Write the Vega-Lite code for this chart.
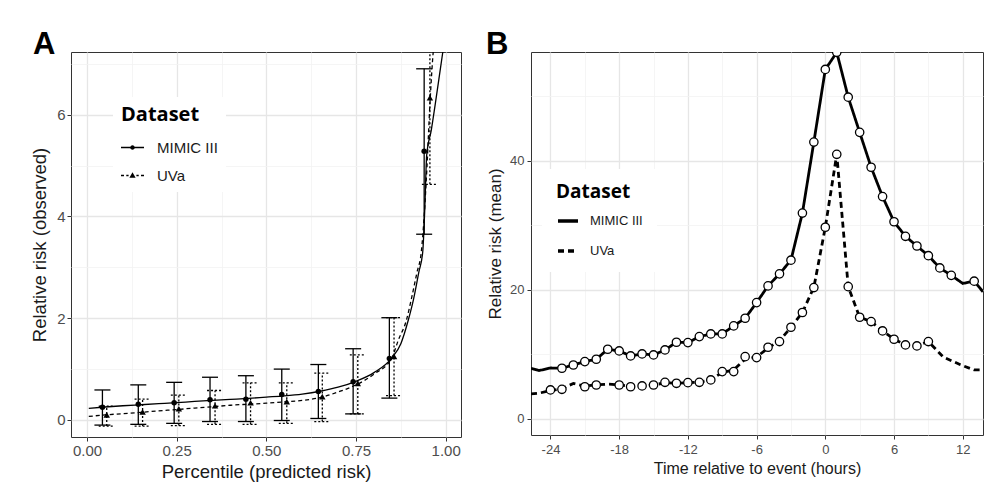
{
  "$schema": "https://vega.github.io/schema/vega-lite/v6.json",
  "autosize": {"type": "none"},
  "padding": {"left": 71, "top": 52, "right": 921, "bottom": 448},
  "background": "white",
  "spacing": 70,
  "bounds": "flush",
  "datasets": {
    "aPts": [
      {"p": 0.043, "rr": 0.25, "lo": -0.10, "hi": 0.59, "ds": "MIMIC III"},
      {"p": 0.143, "rr": 0.31, "lo": -0.085, "hi": 0.69, "ds": "MIMIC III"},
      {"p": 0.243, "rr": 0.34, "lo": -0.066, "hi": 0.74, "ds": "MIMIC III"},
      {"p": 0.343, "rr": 0.40, "lo": -0.03, "hi": 0.84, "ds": "MIMIC III"},
      {"p": 0.443, "rr": 0.41, "lo": -0.03, "hi": 0.87, "ds": "MIMIC III"},
      {"p": 0.543, "rr": 0.50, "lo": -0.01, "hi": 1.00, "ds": "MIMIC III"},
      {"p": 0.645, "rr": 0.56, "lo": 0.03, "hi": 1.09, "ds": "MIMIC III"},
      {"p": 0.742, "rr": 0.75, "lo": 0.12, "hi": 1.40, "ds": "MIMIC III"},
      {"p": 0.843, "rr": 1.21, "lo": 0.43, "hi": 2.01, "ds": "MIMIC III"},
      {"p": 0.940, "rr": 5.28, "lo": 3.65, "hi": 6.90, "ds": "MIMIC III"},
      {"p": 0.055, "rr": 0.10, "lo": -0.12, "hi": 0.27, "ds": "UVa"},
      {"p": 0.155, "rr": 0.16, "lo": -0.12, "hi": 0.41, "ds": "UVa"},
      {"p": 0.256, "rr": 0.22, "lo": -0.11, "hi": 0.49, "ds": "UVa"},
      {"p": 0.357, "rr": 0.28, "lo": -0.085, "hi": 0.58, "ds": "UVa"},
      {"p": 0.456, "rr": 0.34, "lo": -0.085, "hi": 0.73, "ds": "UVa"},
      {"p": 0.557, "rr": 0.36, "lo": -0.066, "hi": 0.73, "ds": "UVa"},
      {"p": 0.656, "rr": 0.46, "lo": -0.03, "hi": 0.92, "ds": "UVa"},
      {"p": 0.755, "rr": 0.72, "lo": 0.12, "hi": 1.28, "ds": "UVa"},
      {"p": 0.856, "rr": 1.25, "lo": 0.48, "hi": 2.01, "ds": "UVa"},
      {"p": 0.956, "rr": 6.33, "lo": 4.63, "hi": 8.5, "ds": "UVa"}
    ],
    "aFit": [
      {"p": 0.005, "rr": 0.23, "ds": "MIMIC III"},
      {"p": 0.05, "rr": 0.255, "ds": "MIMIC III"},
      {"p": 0.10, "rr": 0.28, "ds": "MIMIC III"},
      {"p": 0.15, "rr": 0.30, "ds": "MIMIC III"},
      {"p": 0.20, "rr": 0.32, "ds": "MIMIC III"},
      {"p": 0.25, "rr": 0.34, "ds": "MIMIC III"},
      {"p": 0.30, "rr": 0.365, "ds": "MIMIC III"},
      {"p": 0.35, "rr": 0.385, "ds": "MIMIC III"},
      {"p": 0.40, "rr": 0.405, "ds": "MIMIC III"},
      {"p": 0.45, "rr": 0.425, "ds": "MIMIC III"},
      {"p": 0.50, "rr": 0.45, "ds": "MIMIC III"},
      {"p": 0.55, "rr": 0.475, "ds": "MIMIC III"},
      {"p": 0.60, "rr": 0.51, "ds": "MIMIC III"},
      {"p": 0.65, "rr": 0.565, "ds": "MIMIC III"},
      {"p": 0.68, "rr": 0.61, "ds": "MIMIC III"},
      {"p": 0.70, "rr": 0.645, "ds": "MIMIC III"},
      {"p": 0.75, "rr": 0.76, "ds": "MIMIC III"},
      {"p": 0.80, "rr": 0.93, "ds": "MIMIC III"},
      {"p": 0.85, "rr": 1.22, "ds": "MIMIC III"},
      {"p": 0.875, "rr": 1.5, "ds": "MIMIC III"},
      {"p": 0.896, "rr": 1.97, "ds": "MIMIC III"},
      {"p": 0.91, "rr": 2.36, "ds": "MIMIC III"},
      {"p": 0.925, "rr": 2.9, "ds": "MIMIC III"},
      {"p": 0.936, "rr": 3.3, "ds": "MIMIC III"},
      {"p": 0.942, "rr": 4.2, "ds": "MIMIC III"},
      {"p": 0.947, "rr": 5.2, "ds": "MIMIC III"},
      {"p": 0.96, "rr": 5.7, "ds": "MIMIC III"},
      {"p": 0.97, "rr": 6.16, "ds": "MIMIC III"},
      {"p": 0.992, "rr": 7.23, "ds": "MIMIC III"},
      {"p": 1.0, "rr": 7.6, "ds": "MIMIC III"},
      {"p": 0.005, "rr": 0.07, "ds": "UVa"},
      {"p": 0.05, "rr": 0.10, "ds": "UVa"},
      {"p": 0.10, "rr": 0.125, "ds": "UVa"},
      {"p": 0.15, "rr": 0.15, "ds": "UVa"},
      {"p": 0.20, "rr": 0.18, "ds": "UVa"},
      {"p": 0.25, "rr": 0.205, "ds": "UVa"},
      {"p": 0.30, "rr": 0.235, "ds": "UVa"},
      {"p": 0.35, "rr": 0.26, "ds": "UVa"},
      {"p": 0.40, "rr": 0.29, "ds": "UVa"},
      {"p": 0.45, "rr": 0.31, "ds": "UVa"},
      {"p": 0.50, "rr": 0.33, "ds": "UVa"},
      {"p": 0.55, "rr": 0.355, "ds": "UVa"},
      {"p": 0.60, "rr": 0.385, "ds": "UVa"},
      {"p": 0.65, "rr": 0.44, "ds": "UVa"},
      {"p": 0.70, "rr": 0.55, "ds": "UVa"},
      {"p": 0.75, "rr": 0.69, "ds": "UVa"},
      {"p": 0.80, "rr": 0.90, "ds": "UVa"},
      {"p": 0.85, "rr": 1.22, "ds": "UVa"},
      {"p": 0.868, "rr": 1.57, "ds": "UVa"},
      {"p": 0.89, "rr": 1.95, "ds": "UVa"},
      {"p": 0.905, "rr": 2.4, "ds": "UVa"},
      {"p": 0.92, "rr": 2.9, "ds": "UVa"},
      {"p": 0.932, "rr": 3.3, "ds": "UVa"},
      {"p": 0.94, "rr": 4.0, "ds": "UVa"},
      {"p": 0.948, "rr": 5.0, "ds": "UVa"},
      {"p": 0.956, "rr": 6.2, "ds": "UVa"},
      {"p": 0.966, "rr": 7.3, "ds": "UVa"},
      {"p": 0.97, "rr": 7.6, "ds": "UVa"}
    ],
    "bPts": [
      {"h": -23, "rr": 7.86, "ds": "MIMIC III"},
      {"h": -22, "rr": 8.37, "ds": "MIMIC III"},
      {"h": -21, "rr": 8.89, "ds": "MIMIC III"},
      {"h": -20, "rr": 9.25, "ds": "MIMIC III"},
      {"h": -19, "rr": 10.8, "ds": "MIMIC III"},
      {"h": -18, "rr": 10.54, "ds": "MIMIC III"},
      {"h": -17, "rr": 9.77, "ds": "MIMIC III"},
      {"h": -16, "rr": 10.08, "ds": "MIMIC III"},
      {"h": -15, "rr": 9.92, "ds": "MIMIC III"},
      {"h": -14, "rr": 10.7, "ds": "MIMIC III"},
      {"h": -13, "rr": 11.89, "ds": "MIMIC III"},
      {"h": -12, "rr": 11.83, "ds": "MIMIC III"},
      {"h": -11, "rr": 12.76, "ds": "MIMIC III"},
      {"h": -10, "rr": 13.18, "ds": "MIMIC III"},
      {"h": -9, "rr": 13.18, "ds": "MIMIC III"},
      {"h": -8, "rr": 14.42, "ds": "MIMIC III"},
      {"h": -7, "rr": 15.61, "ds": "MIMIC III"},
      {"h": -6, "rr": 18.03, "ds": "MIMIC III"},
      {"h": -5, "rr": 20.62, "ds": "MIMIC III"},
      {"h": -4, "rr": 22.48, "ds": "MIMIC III"},
      {"h": -3, "rr": 24.6, "ds": "MIMIC III"},
      {"h": -2, "rr": 31.9, "ds": "MIMIC III"},
      {"h": -1, "rr": 42.9, "ds": "MIMIC III"},
      {"h": 0, "rr": 54.15, "ds": "MIMIC III"},
      {"h": 1, "rr": 56.8, "ds": "MIMIC III"},
      {"h": 2, "rr": 49.85, "ds": "MIMIC III"},
      {"h": 3, "rr": 44.4, "ds": "MIMIC III"},
      {"h": 4, "rr": 39.0, "ds": "MIMIC III"},
      {"h": 5, "rr": 34.45, "ds": "MIMIC III"},
      {"h": 6, "rr": 30.55, "ds": "MIMIC III"},
      {"h": 7, "rr": 28.3, "ds": "MIMIC III"},
      {"h": 8, "rr": 26.8, "ds": "MIMIC III"},
      {"h": 9, "rr": 25.3, "ds": "MIMIC III"},
      {"h": 10, "rr": 23.4, "ds": "MIMIC III"},
      {"h": 11, "rr": 22.25, "ds": "MIMIC III"},
      {"h": 13, "rr": 21.35, "ds": "MIMIC III"},
      {"h": -24, "rr": 4.5, "ds": "UVa"},
      {"h": -23, "rr": 4.6, "ds": "UVa"},
      {"h": -21, "rr": 5.0, "ds": "UVa"},
      {"h": -20, "rr": 5.27, "ds": "UVa"},
      {"h": -18, "rr": 5.27, "ds": "UVa"},
      {"h": -17, "rr": 5.0, "ds": "UVa"},
      {"h": -16, "rr": 5.12, "ds": "UVa"},
      {"h": -15, "rr": 5.27, "ds": "UVa"},
      {"h": -14, "rr": 5.68, "ds": "UVa"},
      {"h": -13, "rr": 5.53, "ds": "UVa"},
      {"h": -12, "rr": 5.63, "ds": "UVa"},
      {"h": -11, "rr": 5.68, "ds": "UVa"},
      {"h": -10, "rr": 6.05, "ds": "UVa"},
      {"h": -9, "rr": 7.34, "ds": "UVa"},
      {"h": -8, "rr": 7.34, "ds": "UVa"},
      {"h": -7, "rr": 9.66, "ds": "UVa"},
      {"h": -6, "rr": 9.51, "ds": "UVa"},
      {"h": -5, "rr": 11.11, "ds": "UVa"},
      {"h": -4, "rr": 11.99, "ds": "UVa"},
      {"h": -3, "rr": 14.21, "ds": "UVa"},
      {"h": -2, "rr": 16.49, "ds": "UVa"},
      {"h": -1, "rr": 20.36, "ds": "UVa"},
      {"h": 0, "rr": 29.7, "ds": "UVa"},
      {"h": 1, "rr": 41.0, "ds": "UVa"},
      {"h": 2, "rr": 20.5, "ds": "UVa"},
      {"h": 3, "rr": 15.76, "ds": "UVa"},
      {"h": 4, "rr": 15.09, "ds": "UVa"},
      {"h": 5, "rr": 13.64, "ds": "UVa"},
      {"h": 6, "rr": 12.35, "ds": "UVa"},
      {"h": 7, "rr": 11.47, "ds": "UVa"},
      {"h": 8, "rr": 11.32, "ds": "UVa"},
      {"h": 9, "rr": 11.99, "ds": "UVa"}
    ],
    "bLine": [
      {"h": -25.7, "rr": 7.86, "ds": "MIMIC III"},
      {"h": -25, "rr": 7.5, "ds": "MIMIC III"},
      {"h": -24, "rr": 7.9, "ds": "MIMIC III"},
      {"h": -23, "rr": 7.86, "ds": "MIMIC III"},
      {"h": -22, "rr": 8.37, "ds": "MIMIC III"},
      {"h": -21, "rr": 8.89, "ds": "MIMIC III"},
      {"h": -20, "rr": 9.25, "ds": "MIMIC III"},
      {"h": -19, "rr": 10.8, "ds": "MIMIC III"},
      {"h": -18, "rr": 10.54, "ds": "MIMIC III"},
      {"h": -17, "rr": 9.77, "ds": "MIMIC III"},
      {"h": -16, "rr": 10.08, "ds": "MIMIC III"},
      {"h": -15, "rr": 9.92, "ds": "MIMIC III"},
      {"h": -14, "rr": 10.7, "ds": "MIMIC III"},
      {"h": -13, "rr": 11.89, "ds": "MIMIC III"},
      {"h": -12, "rr": 11.83, "ds": "MIMIC III"},
      {"h": -11, "rr": 12.76, "ds": "MIMIC III"},
      {"h": -10, "rr": 13.18, "ds": "MIMIC III"},
      {"h": -9, "rr": 13.18, "ds": "MIMIC III"},
      {"h": -8, "rr": 14.42, "ds": "MIMIC III"},
      {"h": -7, "rr": 15.61, "ds": "MIMIC III"},
      {"h": -6, "rr": 18.03, "ds": "MIMIC III"},
      {"h": -5, "rr": 20.62, "ds": "MIMIC III"},
      {"h": -4, "rr": 22.48, "ds": "MIMIC III"},
      {"h": -3, "rr": 24.6, "ds": "MIMIC III"},
      {"h": -2, "rr": 31.9, "ds": "MIMIC III"},
      {"h": -1, "rr": 42.9, "ds": "MIMIC III"},
      {"h": 0, "rr": 54.15, "ds": "MIMIC III"},
      {"h": 1, "rr": 56.8, "ds": "MIMIC III"},
      {"h": 2, "rr": 49.85, "ds": "MIMIC III"},
      {"h": 3, "rr": 44.4, "ds": "MIMIC III"},
      {"h": 4, "rr": 39.0, "ds": "MIMIC III"},
      {"h": 5, "rr": 34.45, "ds": "MIMIC III"},
      {"h": 6, "rr": 30.55, "ds": "MIMIC III"},
      {"h": 7, "rr": 28.3, "ds": "MIMIC III"},
      {"h": 8, "rr": 26.8, "ds": "MIMIC III"},
      {"h": 9, "rr": 25.3, "ds": "MIMIC III"},
      {"h": 10, "rr": 23.4, "ds": "MIMIC III"},
      {"h": 11, "rr": 22.25, "ds": "MIMIC III"},
      {"h": 12, "rr": 21.0, "ds": "MIMIC III"},
      {"h": 13, "rr": 21.35, "ds": "MIMIC III"},
      {"h": 13.77, "rr": 19.7, "ds": "MIMIC III"},
      {"h": -25.7, "rr": 3.88, "ds": "UVa"},
      {"h": -25, "rr": 4.0, "ds": "UVa"},
      {"h": -24, "rr": 4.4, "ds": "UVa"},
      {"h": -23, "rr": 4.7, "ds": "UVa"},
      {"h": -22, "rr": 5.5, "ds": "UVa"},
      {"h": -21, "rr": 5.1, "ds": "UVa"},
      {"h": -20, "rr": 5.3, "ds": "UVa"},
      {"h": -19, "rr": 5.4, "ds": "UVa"},
      {"h": -18, "rr": 5.3, "ds": "UVa"},
      {"h": -17, "rr": 5.05, "ds": "UVa"},
      {"h": -16, "rr": 5.12, "ds": "UVa"},
      {"h": -15, "rr": 5.27, "ds": "UVa"},
      {"h": -14, "rr": 5.6, "ds": "UVa"},
      {"h": -13, "rr": 5.55, "ds": "UVa"},
      {"h": -12, "rr": 5.63, "ds": "UVa"},
      {"h": -11, "rr": 5.7, "ds": "UVa"},
      {"h": -10, "rr": 6.1, "ds": "UVa"},
      {"h": -9, "rr": 7.2, "ds": "UVa"},
      {"h": -8, "rr": 7.6, "ds": "UVa"},
      {"h": -7, "rr": 9.3, "ds": "UVa"},
      {"h": -6, "rr": 9.6, "ds": "UVa"},
      {"h": -5, "rr": 11.0, "ds": "UVa"},
      {"h": -4, "rr": 12.1, "ds": "UVa"},
      {"h": -3, "rr": 14.2, "ds": "UVa"},
      {"h": -2, "rr": 16.5, "ds": "UVa"},
      {"h": -1, "rr": 20.4, "ds": "UVa"},
      {"h": 0, "rr": 29.7, "ds": "UVa"},
      {"h": 1, "rr": 41.0, "ds": "UVa"},
      {"h": 2, "rr": 20.5, "ds": "UVa"},
      {"h": 3, "rr": 15.76, "ds": "UVa"},
      {"h": 4, "rr": 15.09, "ds": "UVa"},
      {"h": 5, "rr": 13.64, "ds": "UVa"},
      {"h": 6, "rr": 12.35, "ds": "UVa"},
      {"h": 7, "rr": 11.47, "ds": "UVa"},
      {"h": 8, "rr": 11.32, "ds": "UVa"},
      {"h": 9, "rr": 12.0, "ds": "UVa"},
      {"h": 10.3, "rr": 9.6, "ds": "UVa"},
      {"h": 11.8, "rr": 8.4, "ds": "UVa"},
      {"h": 13, "rr": 7.6, "ds": "UVa"},
      {"h": 13.77, "rr": 7.6, "ds": "UVa"}
    ]
  },
  "hconcat": [
    {
      "width": 390,
      "height": 385,
      "title": {"text": "A", "anchor": "start", "frame": "group", "font": "Liberation Sans", "fontSize": 31, "fontWeight": "bold", "color": "black", "baseline": "alphabetic", "offset": 0, "dx": -38, "dy": 33},
      "encoding": {
        "x": {
          "field": "p", "type": "quantitative", "title": "Percentile (predicted risk)",
          "scale": {"domain": [-0.0446, 1.0427], "nice": false, "zero": false},
          "axis": {
            "values": [0, 0.125, 0.25, 0.375, 0.5, 0.625, 0.75, 0.875, 1],
            "labelExpr": "abs(datum.value*4 - round(datum.value*4)) < 0.001 ? format(datum.value, '.2f') : ''",
            "gridColor": {"condition": {"test": "abs(datum.value*4 - round(datum.value*4)) > 0.001", "value": "#f3f3f3"}, "value": "#e6e6e6"},
            "gridWidth": {"condition": {"test": "abs(datum.value*4 - round(datum.value*4)) > 0.001", "value": 0.8}, "value": 1.3},
            "tickOpacity": {"condition": {"test": "abs(datum.value*4 - round(datum.value*4)) > 0.001", "value": 0}, "value": 1},
            "labelFontSize": 15, "titleFontSize": 18.5, "labelPadding": 2, "titlePadding": 4,
            "labelFlush": false, "labelOverlap": false
          }
        }
      },
      "layer": [
        {
          "data": {"name": "aFit"},
          "transform": [{"filter": "datum.ds === 'MIMIC III'"}],
          "mark": {"type": "line", "color": "black", "strokeWidth": 1.3, "interpolate": "monotone", "clip": true},
          "encoding": {
            "y": {
              "field": "rr", "type": "quantitative", "title": "Relative risk (observed)",
              "scale": {"domain": [-0.334, 7.23], "nice": false, "zero": false},
              "axis": {
                "values": [0, 1, 2, 3, 4, 5, 6, 7],
                "labelExpr": "datum.value % 2 === 0 ? datum.label : ''",
                "gridColor": {"condition": {"test": "datum.value % 2 !== 0", "value": "#f3f3f3"}, "value": "#e6e6e6"},
                "gridWidth": {"condition": {"test": "datum.value % 2 !== 0", "value": 0.8}, "value": 1.3},
                "tickOpacity": {"condition": {"test": "datum.value % 2 !== 0", "value": 0}, "value": 1},
                "labelFontSize": 15, "titleFontSize": 18.5, "labelPadding": 2, "titlePadding": 7,
                "labelFlush": false, "labelOverlap": false
              }
            }
          }
        },
        {
          "data": {"name": "aFit"},
          "transform": [{"filter": "datum.ds === 'UVa'"}],
          "mark": {"type": "line", "color": "black", "strokeWidth": 1.3, "strokeDash": [4, 3], "interpolate": "monotone", "clip": true},
          "encoding": {
            "y": {"field": "rr", "type": "quantitative", "title": "Relative risk (observed)", "scale": {"domain": [-0.334, 7.23], "nice": false, "zero": false}}
          }
        },
        {
          "data": {"name": "aPts"},
          "transform": [{"filter": "datum.ds === 'MIMIC III'"}],
          "mark": {"type": "rule", "color": "black", "strokeWidth": 1.3, "clip": true},
          "encoding": {
            "y": {"field": "lo", "type": "quantitative", "title": "Relative risk (observed)", "scale": {"domain": [-0.334, 7.23], "nice": false, "zero": false}},
            "y2": {"field": "hi"}
          }
        },
        {
          "data": {"name": "aPts"},
          "transform": [{"filter": "datum.ds === 'UVa'"}],
          "mark": {"type": "rule", "color": "black", "strokeWidth": 1.3, "strokeDash": [2, 2], "clip": true},
          "encoding": {
            "y": {"field": "lo", "type": "quantitative", "title": "Relative risk (observed)", "scale": {"domain": [-0.334, 7.23], "nice": false, "zero": false}},
            "y2": {"field": "hi"}
          }
        },
        {
          "data": {"name": "aPts"},
          "transform": [{"filter": "datum.ds === 'MIMIC III'"}, {"fold": ["lo", "hi"], "as": ["k", "cap"]}],
          "mark": {"type": "point", "shape": "M-1,0H1", "size": 256, "filled": false, "stroke": "black", "strokeWidth": 1.3, "opacity": 1, "clip": true},
          "encoding": {
            "y": {"field": "cap", "type": "quantitative", "title": "Relative risk (observed)", "scale": {"domain": [-0.334, 7.23], "nice": false, "zero": false}}
          }
        },
        {
          "data": {"name": "aPts"},
          "transform": [{"filter": "datum.ds === 'UVa'"}, {"fold": ["lo", "hi"], "as": ["k", "cap"]}],
          "mark": {"type": "point", "shape": "M-1,0H-0.75M-0.5,0H-0.25M0,0H0.25M0.5,0H0.75", "size": 256, "filled": false, "stroke": "black", "strokeWidth": 1.3, "opacity": 1, "clip": true},
          "encoding": {
            "y": {"field": "cap", "type": "quantitative", "title": "Relative risk (observed)", "scale": {"domain": [-0.334, 7.23], "nice": false, "zero": false}}
          }
        },
        {
          "data": {"name": "aPts"},
          "transform": [{"filter": "datum.ds === 'MIMIC III'"}],
          "mark": {"type": "point", "shape": "circle", "size": 30, "filled": true, "color": "black", "opacity": 1, "clip": true},
          "encoding": {
            "y": {"field": "rr", "type": "quantitative", "title": "Relative risk (observed)", "scale": {"domain": [-0.334, 7.23], "nice": false, "zero": false}}
          }
        },
        {
          "data": {"name": "aPts"},
          "transform": [{"filter": "datum.ds === 'UVa'"}],
          "mark": {"type": "point", "shape": "triangle-up", "size": 42, "filled": true, "color": "black", "opacity": 1, "clip": true},
          "encoding": {
            "y": {"field": "rr", "type": "quantitative", "title": "Relative risk (observed)", "scale": {"domain": [-0.334, 7.23], "nice": false, "zero": false}}
          }
        },
        {
          "data": {"name": "aPts"},
          "transform": [{"filter": "false"}],
          "mark": {"type": "point", "filled": true, "color": "black", "size": 529, "opacity": 1},
          "encoding": {
            "shape": {
              "field": "ds", "type": "nominal",
              "scale": {"domain": ["MIMIC III", "UVa"], "range": [
                "M-1,-0.06H1V0.06H-1ZM-0.2,0A0.2,0.2 0 1,1 0.2,0A0.2,0.2 0 1,1 -0.2,0Z",
                "M-1,-0.06H-0.74V0.06H-1ZM-0.54,-0.06H-0.34V0.06H-0.54ZM0.34,-0.06H0.54V0.06H0.34ZM0.74,-0.06H1V0.06H0.74ZM0,-0.28L0.27,0.2L-0.27,0.2Z"
              ]},
              "legend": {
                "title": "Dataset", "orient": "none", "legendX": 42, "legendY": 45,
                "fillColor": "white", "padding": 8,
                "titleFont": "Open Sans", "titleFontSize": 20, "titleFontWeight": "bold", "titleColor": "black", "titlePadding": 11,
                "labelFont": "Liberation Sans", "labelFontSize": 15, "labelColor": "#1a1a1a", "labelOffset": 13,
                "rowPadding": 8, "symbolSize": 529, "symbolFillColor": "black", "symbolStrokeColor": "black", "symbolStrokeWidth": 0, "symbolOpacity": 1
              }
            }
          }
        }
      ]
    },
    {
      "width": 452,
      "height": 383,
      "title": {"text": "B", "anchor": "start", "frame": "group", "font": "Liberation Sans", "fontSize": 31, "fontWeight": "bold", "color": "black", "baseline": "alphabetic", "offset": 0, "dx": -45, "dy": 33},
      "encoding": {
        "x": {
          "field": "h", "type": "quantitative", "title": "Time relative to event (hours)",
          "scale": {"domain": [-25.7, 13.77], "nice": false, "zero": false},
          "axis": {
            "values": [-24, -21, -18, -15, -12, -9, -6, -3, 0, 3, 6, 9, 12],
            "labelExpr": "datum.value % 6 === 0 ? '' + datum.value : ''",
            "gridColor": {"condition": {"test": "datum.value % 6 !== 0", "value": "#f3f3f3"}, "value": "#e6e6e6"},
            "gridWidth": {"condition": {"test": "datum.value % 6 !== 0", "value": 0.8}, "value": 1.3},
            "tickOpacity": {"condition": {"test": "datum.value % 6 !== 0", "value": 0}, "value": 1},
            "labelFont": "Liberation Sans", "labelFontSize": 13,
            "titleFont": "Liberation Sans", "titleFontSize": 16,
            "labelPadding": 4, "titlePadding": 4, "labelFlush": false, "labelOverlap": false
          }
        },
        "y": {
          "field": "rr", "type": "quantitative", "title": "Relative risk (mean)",
          "scale": {"domain": [-2.48, 56.85], "nice": false, "zero": false},
          "axis": {
            "values": [0, 10, 20, 30, 40, 50],
            "labelExpr": "datum.value % 20 === 0 ? datum.label : ''",
            "gridColor": {"condition": {"test": "datum.value % 20 !== 0", "value": "#f3f3f3"}, "value": "#e6e6e6"},
            "gridWidth": {"condition": {"test": "datum.value % 20 !== 0", "value": 0.8}, "value": 1.3},
            "tickOpacity": {"condition": {"test": "datum.value % 20 !== 0", "value": 0}, "value": 1},
            "labelFont": "Liberation Sans", "labelFontSize": 13,
            "titleFont": "Liberation Sans", "titleFontSize": 17,
            "labelPadding": 3, "titlePadding": 5, "labelFlush": false, "labelOverlap": false
          }
        }
      },
      "layer": [
        {
          "data": {"name": "bLine"},
          "mark": {"type": "line", "color": "black", "strokeWidth": 2.8, "clip": true},
          "encoding": {
            "strokeDash": {
              "field": "ds", "type": "nominal",
              "scale": {"domain": ["MIMIC III", "UVa"], "range": [[1, 0], [6, 4]]},
              "legend": {
                "title": "Dataset", "orient": "none", "legendX": 11, "legendY": 117,
                "fillColor": "white", "padding": 14,
                "titleFont": "Open Sans", "titleFontSize": 19, "titleFontWeight": "bold", "titleColor": "black", "titlePadding": 7,
                "labelFont": "Liberation Sans", "labelFontSize": 13, "labelColor": "#1a1a1a", "labelOffset": 10,
                "rowPadding": 11, "symbolType": "stroke", "symbolSize": 400, "symbolStrokeWidth": 3.5, "symbolStrokeColor": "black"
              }
            }
          }
        },
        {
          "data": {"name": "bPts"},
          "mark": {"type": "point", "shape": "circle", "size": 70, "filled": true, "fill": "white", "stroke": "black", "strokeWidth": 1.3, "opacity": 1, "clip": true},
          "encoding": {}
        }
      ]
    }
  ],
  "resolve": {
    "scale": {"shape": "independent", "strokeDash": "independent", "x": "independent", "y": "independent"},
    "legend": {"shape": "independent", "strokeDash": "independent"}
  },
  "config": {
    "font": "Liberation Sans",
    "view": {"stroke": "#333333", "strokeWidth": 1},
    "axis": {
      "domain": false, "tickColor": "#333333", "tickSize": 4, "tickWidth": 1,
      "labelColor": "#4d4d4d", "titleColor": "#1a1a1a", "titleFontWeight": "normal", "grid": true
    }
  }
}
